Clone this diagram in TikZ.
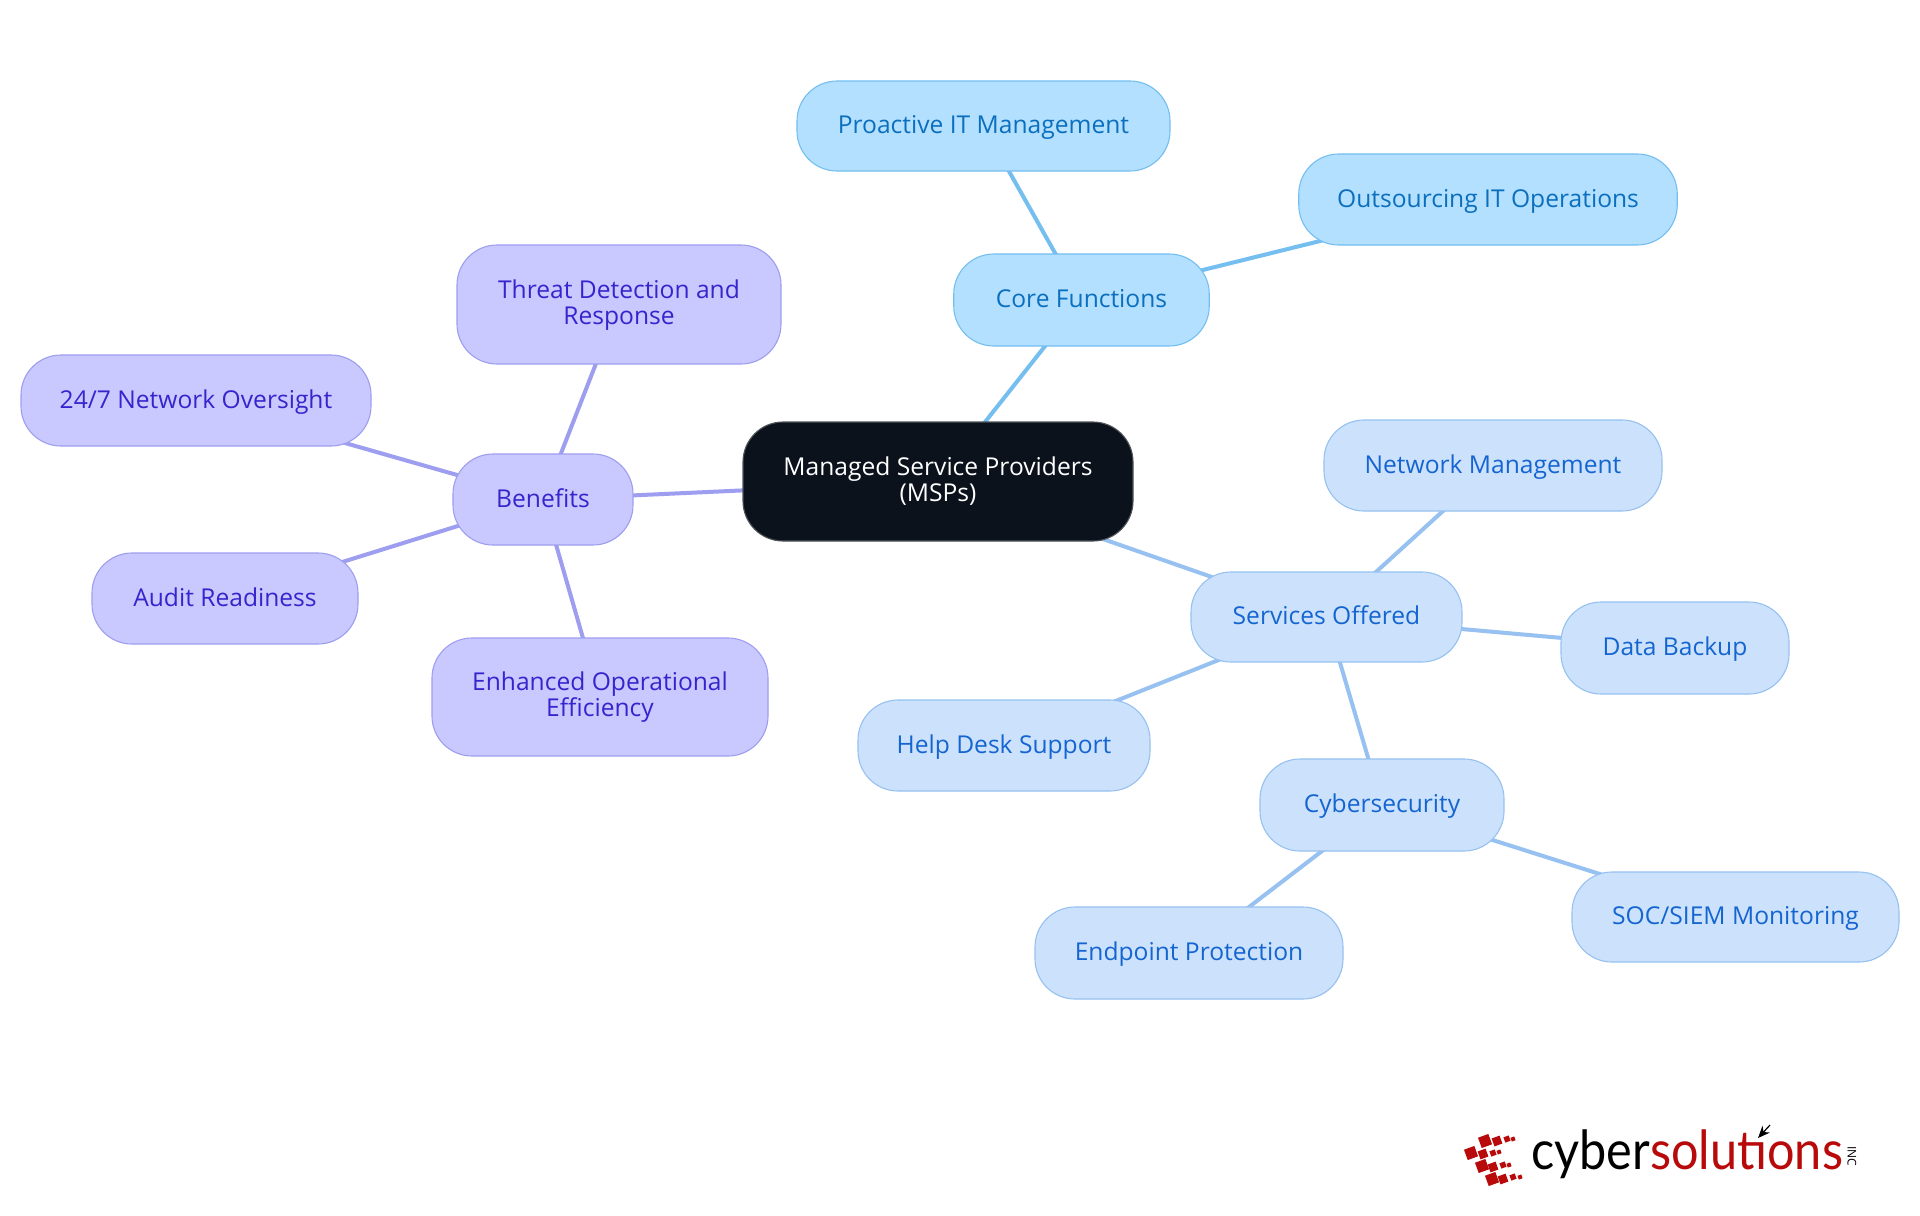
\documentclass[tikz,border=0pt]{standalone}
\usepackage{fontspec}
\setmainfont{Open Sans}
\newfontfamily\logofont{Lato}
\usetikzlibrary{backgrounds,arrows.meta}
\definecolor{coreF}{HTML}{B3E0FF}\definecolor{coreD}{HTML}{74BEF0}\definecolor{coreT}{HTML}{0B6FBD}
\definecolor{svcF}{HTML}{CCE2FC}\definecolor{svcD}{HTML}{96C1F0}\definecolor{svcT}{HTML}{1565D0}
\definecolor{benF}{HTML}{C9C9FF}\definecolor{benD}{HTML}{9E9EF0}\definecolor{benT}{HTML}{3525CC}
\definecolor{rootF}{HTML}{0B121B}\definecolor{rootD}{HTML}{50555B}
\definecolor{logored}{HTML}{B80A0A}
\tikzset{
  x=0.5pt,y=-0.5pt,
  mm/.style={rounded corners=20pt,line width=0.55pt,align=center,inner sep=0pt,
    font=\fontsize{12.3}{13}\selectfont},
  rootbox/.style={mm,fill=rootF,draw=rootD,text=white},
  corebox/.style={mm,fill=coreF,draw=coreD,text=coreT},
  svcbox/.style={mm,fill=svcF,draw=svcD,text=svcT},
  benbox/.style={mm,fill=benF,draw=benD,text=benT},
  coreedge/.style={coreD,line width=2pt},
  svcedge/.style={svcD,line width=2pt},
  benedge/.style={benD,line width=2pt},
  sq/.style={fill=logored,draw=none,inner sep=0pt,rotate=20,minimum size=#1},
}
\newcommand{\st}{\rule[-4pt]{0pt}{15.6pt}}
\newcommand{\sta}{\rule[-3.4pt]{0pt}{13.4pt}}
\newcommand{\stb}{\rule[-3.4pt]{0pt}{12.8pt}}
\newcommand{\mmnode}[7]{\node[#1,minimum width=#4*0.5pt,minimum height=#5*0.5pt] (#2) at (#6,#7) {#3};}
\begin{document}
\begin{tikzpicture}
\useasboundingbox (0,0) rectangle (1920,1215);
\mmnode{rootbox}{root}{\sta Managed Service Providers\\\stb(MSPs)}{390}{119}{938}{481.5}
\mmnode{corebox}{core}{\st Core Functions}{255.5}{92}{1081.5}{300}
\mmnode{corebox}{proactive}{\st Proactive IT Management}{373}{90}{983.5}{126}
\mmnode{corebox}{outsource}{\st Outsourcing IT Operations}{378.5}{91}{1488}{199.5}
\mmnode{svcbox}{services}{\st Services Offered}{271}{90}{1326.5}{617}
\mmnode{svcbox}{network}{\st Network Management}{338}{91}{1493}{465.5}
\mmnode{svcbox}{backup}{\st Data Backup}{228}{92}{1675}{648}
\mmnode{svcbox}{helpdesk}{\st Help Desk Support}{292}{91}{1004}{745.5}
\mmnode{svcbox}{cyber}{\st Cybersecurity}{244}{92}{1382}{805}
\mmnode{svcbox}{soc}{\st SOC/SIEM Monitoring}{327}{90}{1735.5}{917}
\mmnode{svcbox}{endpoint}{\st Endpoint Protection}{308}{92}{1189}{953}
\mmnode{benbox}{benefits}{\st Benefits}{180}{91}{543}{499.5}
\mmnode{benbox}{threat}{\sta Threat Detection and\\\stb Response}{324}{119}{619}{304.5}
\mmnode{benbox}{oversight}{\st 24/7 Network Oversight}{350}{91}{196}{400.5}
\mmnode{benbox}{audit}{\st Audit Readiness}{266}{91}{225}{598.5}
\mmnode{benbox}{enhanced}{\sta Enhanced Operational\\\stb Efficiency}{336}{118}{600}{697}
\begin{scope}[on background layer]
\fill[white] (0,0) rectangle (1920,1215);
\draw[coreedge] (root.center) -- (core.center);
\draw[coreedge] (core.center) -- (proactive.center);
\draw[coreedge] (core.center) -- (outsource.center);
\draw[svcedge] (root.center) -- (services.center);
\draw[svcedge] (services.center) -- (network.center);
\draw[svcedge] (services.center) -- (backup.center);
\draw[svcedge] (services.center) -- (helpdesk.center);
\draw[svcedge] (services.center) -- (cyber.center);
\draw[svcedge] (cyber.center) -- (soc.center);
\draw[svcedge] (cyber.center) -- (endpoint.center);
\draw[benedge] (root.center) -- (benefits.center);
\draw[benedge] (benefits.center) -- (threat.center);
\draw[benedge] (benefits.center) -- (oversight.center);
\draw[benedge] (benefits.center) -- (audit.center);
\draw[benedge] (benefits.center) -- (enhanced.center);
\end{scope}
% logo
\foreach \x/\y/\s in {1485/1141/5.5,1497/1141/4.2,1507/1139/2.8,1513/1139/2,
  1471/1153/5.5,1483/1154/4.2,1493/1153/2.8,1499/1152/2,
  1482/1166/5.5,1493/1167/4.2,1503/1165/2.8,1509/1165/2,
  1492/1179/5.5,1503/1179/4.2,1513/1177/2.8,1520/1177/2}
  \node[sq=\s pt] at (\x,\y) {};
\node[anchor=base west,inner sep=0pt,xscale=0.9,font=\logofont\fontsize{27}{27}\selectfont] (logotext) at (1531,1169)
  {\textcolor{black}{cyber}\textcolor{logored}{solut\char"0131 ons}};
\node[rotate=-90,inner sep=0pt,font=\fontsize{6}{6}\selectfont] (inc) at (1852,1156) {INC};
\draw[-{Stealth[length=6pt,width=5pt]},line width=0.6pt] (1770,1125) -- (1758,1138);
\end{tikzpicture}
\end{document}
